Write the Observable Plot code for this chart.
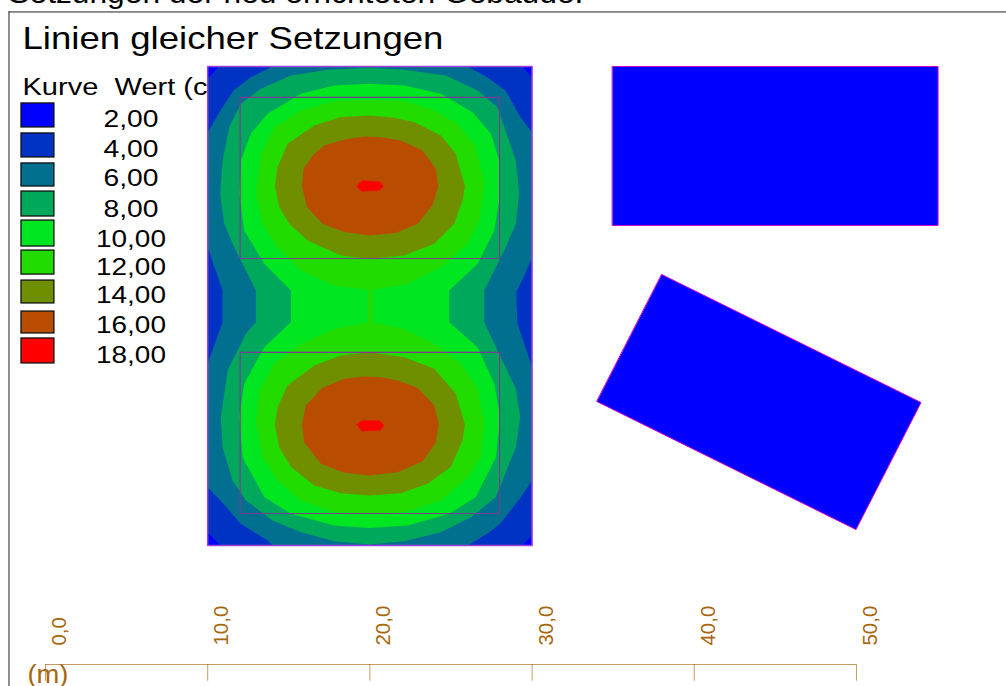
<!DOCTYPE html>
<html><head><meta charset="utf-8">
<script src="https://cdn.jsdelivr.net/npm/d3@7"></script>
<script src="https://cdn.jsdelivr.net/npm/@observablehq/plot@0.6"></script>
<style>html,body{margin:0;padding:0;background:#fff;overflow:hidden}</style>
</head><body><div id="c"></div>
<script>
const overTitle = "Setzungen der neu errichteten Gebäude:";
const chartTitle = "Linien gleicher Setzungen";
const legendHeader = "Kurve\u00a0\u00a0Wert (cm)";
const levels = ["2,00","4,00","6,00","8,00","10,00","12,00","14,00","16,00","18,00"];
const levelColors = ["#0000ff","#0033c4","#006f90","#00a85c","#00e620","#22dc00","#6f8f00","#b84d00","#ff0000"];
const legendTop = [34.59,32.74,30.89,29.16,27.37,25.52,23.67,21.76,20.10];
const legendBottom = [33.11,31.26,29.47,27.62,25.77,24.04,22.26,20.41,18.56];
const axisTicks = [0,10,20,30,40,50];
const axisLabels = ["0,0","10,0","20,0","30,0","40,0","50,0"];

// geometry in metres
const slab = [[10,36.87],[30,36.87],[30,7.34],[10,7.34]];
const footingUpper = [[12,34.96],[28,34.96],[28,25.03],[12,25.03]];
const footingLower = [[12,19.24],[28,19.24],[28,9.31],[12,9.31]];
const buildingA = [[34.96,36.87],[55.03,36.87],[55.03,27.07],[34.96,27.07]];
const buildingB = [[38.0,24.04],[53.98,16.15],[49.97,8.32],[34.0,16.21]];

const corner2a = [[10,36.87],[10.67,36.87],[10,36.13]];
const corner2b = [[29.4,36.87],[30,36.87],[30,36.19]];
const corner2c = [[10,8.14],[10.79,7.34],[10,7.34]];
const corner2d = [[29.4,7.34],[30,7.95],[30,7.34]];

const contour6 = [[14.0,36.87],[12.64,36.19],[11.59,35.39],[10.79,34.16],[10,32.8],[10,25.71],[10.91,23.06],[10.91,21.09],[10,18.56],[10,10.91],[10.79,10.11],[12.02,8.69],[13.69,7.64],[14.0,7.34],[26.02,7.34],[27.25,8.08],[28.05,8.69],[29.29,10.3],[30,11.34],[30,18.31],[29.1,21.02],[29.04,22.44],[29.04,23.0],[29.47,23.86],[30,25.09],[30,32.8],[29.29,33.72],[28.36,35.39],[27.25,36.19],[26.02,36.87]];

const contour8 = [[19.96,36.79],[17.39,36.66],[15.13,36.32],[13.28,35.49],[12.05,34.57],[11.33,33.13],[10.92,31.07],[10.77,29.02],[11.02,27.17],[11.64,25.73],[12.97,23.06],[12.97,21.1],[12.36,20.39],[11.23,18.12],[10.81,15.25],[10.92,13.4],[11.53,11.34],[12.36,10.11],[14.0,8.88],[15.75,8.16],[17.8,7.6],[19.96,7.4],[22.12,7.6],[24.38,8.16],[26.23,9.08],[27.77,10.32],[29.0,13.4],[29.27,15.25],[29.0,17.0],[27.87,19.36],[27.05,21.1],[27.05,23.06],[28.28,25.53],[29.0,27.17],[29.21,29.02],[29.0,31.07],[27.87,34.36],[26.64,35.39],[24.69,36.32],[22.12,36.66]];

const contour10 = [[19.96,35.8],[17.8,35.7],[15.75,35.19],[13.69,33.95],[12.66,32.72],[12.05,31.07],[11.94,29.02],[12.25,26.76],[13.49,24.7],[15.13,23.06],[15.13,21.1],[13.49,19.56],[12.25,17.3],[11.94,15.25],[12.15,12.78],[13.49,10.32],[15.13,9.29],[17.8,8.57],[19.96,8.42],[22.32,8.57],[24.89,9.29],[26.53,10.32],[27.77,12.78],[28.04,15.25],[27.67,17.3],[26.64,19.56],[24.89,21.1],[24.89,23.06],[26.64,24.7],[27.67,26.76],[28.04,29.02],[27.97,31.07],[27.46,32.72],[26.33,34.05],[24.38,35.19],[22.12,35.7]];

const contour12 = [[19.96,34.84],[17.8,34.73],[15.75,34.16],[14.1,33.13],[13.28,31.49],[12.97,29.02],[13.38,27.17],[14.31,25.73],[15.75,24.29],[17.8,23.37],[19.86,23.1],[19.86,21.1],[17.8,20.69],[15.75,19.77],[14.1,18.54],[13.18,16.89],[12.97,14.84],[13.38,12.78],[14.31,11.34],[15.75,10.11],[17.8,9.39],[19.96,9.29],[22.12,9.39],[24.38,10.11],[26.02,11.55],[26.84,12.78],[27.05,14.84],[26.64,17.0],[25.61,18.54],[23.97,19.77],[22.12,20.69],[20.16,21.1],[20.16,23.1],[22.32,23.47],[24.38,24.5],[26.02,25.94],[26.74,27.38],[27.05,29.64],[26.53,31.9],[25.4,33.34],[23.97,34.16],[22.12,34.73]];

const contour14a = [[19.96,33.85],[18.21,33.75],[16.57,33.23],[14.92,32.1],[14.31,30.66],[14.14,29.47],[14.41,28.2],[15.03,27.17],[16.16,26.14],[18.21,25.22],[19.96,25.01],[22.12,25.22],[23.97,25.94],[25.2,27.17],[25.71,28.61],[25.86,29.47],[25.3,31.49],[24.38,32.62],[22.73,33.44],[21.5,33.71]];
const contour14b = [[19.96,19.25],[18.21,19.05],[16.57,18.43],[14.92,17.2],[14.31,15.86],[14.14,14.8],[14.41,13.4],[15.13,12.17],[16.57,11.03],[18.21,10.56],[19.96,10.42],[21.91,10.56],[23.56,11.14],[24.99,12.17],[25.71,13.81],[25.86,14.8],[25.3,16.69],[23.97,18.23],[22.12,18.95]];

const contour16a = [[19.65,32.55],[18.42,32.37],[17.18,32.0],[16.47,31.38],[15.91,30.56],[15.81,29.47],[16.12,28.2],[17.08,27.17],[18.42,26.66],[19.96,26.45],[21.6,26.6],[22.94,27.17],[23.86,28.3],[24.21,29.47],[24.07,30.56],[23.25,31.69],[21.91,32.31],[20.68,32.51]];
const contour16b = [[19.65,17.75],[18.42,17.61],[17.08,17.06],[16.05,15.97],[15.81,14.8],[15.95,13.71],[16.98,12.37],[18.42,11.82],[19.96,11.65],[21.71,11.86],[23.25,12.53],[24.07,13.71],[24.25,14.8],[23.97,15.97],[22.94,17.06],[21.71,17.51],[20.68,17.71]];

const contour18a = [[19.18,29.47],[19.49,29.84],[20.62,29.78],[20.84,29.47],[20.58,29.23],[19.49,29.16]];
const contour18b = [[19.18,14.8],[19.49,15.04],[20.62,15.04],[20.88,14.73],[20.62,14.43],[19.49,14.38]];

const ink = "#000000", axisColor = "#a8660c", slabEdge = "#a040d8", footEdge = "#7d3a94", bldEdge = "#d000c8";
const font = "'Liberation Sans', Arial, sans-serif";

const poly = (pts, fill, stroke="none", strokeWidth=1) =>
  Plot.line(pts, {x:d=>d[0], y:d=>d[1], curve:"linear-closed", fill, stroke, strokeWidth});

const rows = levels.map((label,i)=>({label,color:levelColors[i],top:legendTop[i],bottom:legendBottom[i]}));
const xL = -1.48, xR = 0.55, xText = 5.27;

const chart = Plot.plot({
  width:1006, height:686,
  marginTop:0, marginRight:0, marginBottom:0, marginLeft:0,
  x:{domain:[-2.774,59.25], axis:null},
  y:{domain:[-1.356,40.937], axis:null},
  style:{fontFamily:font, background:"#fff", color:ink},
  marks:[
    // frame
    Plot.ruleY([40.23],{x1:-2.25,x2:59.25,stroke:"#222",strokeWidth:1}),
    Plot.ruleX([-2.25],{y1:-1.356,y2:40.23,stroke:"#222",strokeWidth:1}),
    // titles
    Plot.text([overTitle],{x:-2.29,y:40.81,text:d=>d,textAnchor:"start",lineAnchor:"bottom",fontSize:30,fill:ink}),
    Plot.text([chartTitle],{x:-1.42,y:37.97,text:d=>d,textAnchor:"start",lineAnchor:"bottom",fontSize:32,fill:ink}),
    // legend
    Plot.text([legendHeader],{x:-1.42,y:35.1,text:d=>d,textAnchor:"start",lineAnchor:"bottom",fontSize:23,fill:ink}),
    Plot.rect(rows,{x1:xL,x2:xR,y1:"top",y2:"bottom",fill:"color",stroke:"#111",strokeWidth:1.3}),
    Plot.text(rows,{x:xText,y:"bottom",text:"label",textAnchor:"middle",lineAnchor:"bottom",fontSize:24,fill:ink}),
    // contours
    poly(slab, levelColors[1]),
    poly(corner2a, levelColors[0]), poly(corner2b, levelColors[0]), poly(corner2c, levelColors[0]), poly(corner2d, levelColors[0]),
    poly(contour6, levelColors[2]),
    poly(contour8, levelColors[3]),
    poly(contour10, levelColors[4]),
    poly(contour12, levelColors[5]),
    poly(contour14a, levelColors[6]), poly(contour14b, levelColors[6]),
    poly(contour16a, levelColors[7]), poly(contour16b, levelColors[7]),
    poly(contour18a, levelColors[8]), poly(contour18b, levelColors[8]),
    poly(slab, "none", slabEdge, 1.5),
    poly(footingUpper, "none", footEdge, 1.2),
    poly(footingLower, "none", footEdge, 1.2),
    // other buildings
    poly(buildingA, levelColors[0], bldEdge, 1),
    poly(buildingB, levelColors[0], bldEdge, 1),
    // axis
    Plot.ruleY([0],{x1:0,x2:50,stroke:axisColor,strokeOpacity:0.65,strokeWidth:1}),
    Plot.ruleX(axisTicks,{y1:0,y2:-1.03,stroke:axisColor,strokeOpacity:0.65,strokeWidth:1}),
    Plot.text(axisTicks,{x:d=>d,y:1.17,text:(d,i)=>axisLabels[i],rotate:-90,textAnchor:"start",lineAnchor:"bottom",dx:20.5,fontSize:20.5,fill:axisColor}),
    Plot.text(["(m)"],{x:0.15,y:-1.17,text:d=>d,textAnchor:"middle",lineAnchor:"bottom",fontSize:26,fill:axisColor})
  ]
});
document.getElementById("c").appendChild(chart);

// the reference's lettering is horizontally stretched: fit each text to its measured length
const textWidths = new Map([[overTitle,575],[chartTitle,421],[legendHeader,219],["(m)",41]]);
levels.forEach(s=>textWidths.set(s, s.length===4 ? 55 : 70));
chart.querySelectorAll("text").forEach(t=>{
  const w = textWidths.get(t.textContent);
  if (w) { t.setAttribute("textLength", w); t.setAttribute("lengthAdjust","spacingAndGlyphs"); }
});
</script>
</body></html>
